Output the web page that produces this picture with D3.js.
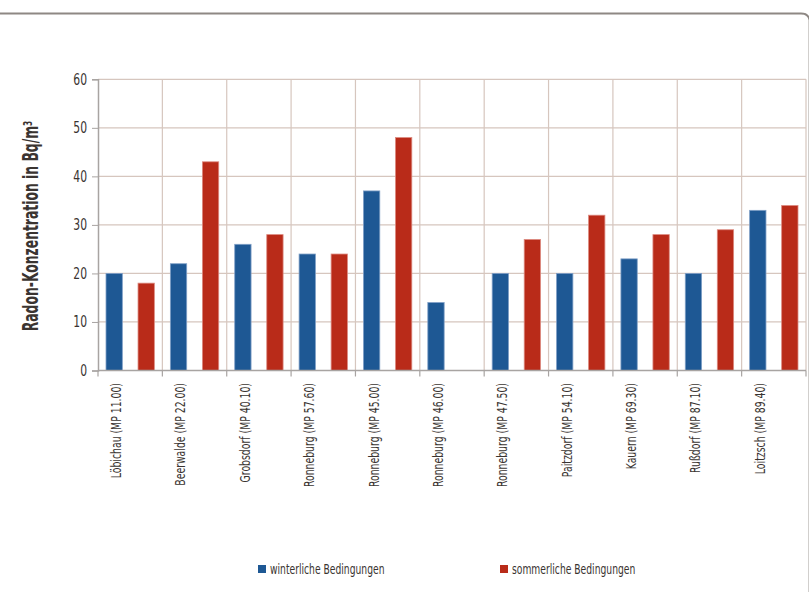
<!DOCTYPE html>
<html>
<head>
<meta charset="utf-8">
<script src="https://cdn.jsdelivr.net/npm/d3@7"></script>
<style>
  html, body { margin: 0; padding: 0; background: #fff; }
  svg text { font-family: "Liberation Sans Narrow", "DejaVu Sans Condensed", "Roboto Condensed", sans-serif; font-stretch: condensed; }
</style>
</head>
<body>
<svg id="chart" width="809" height="592"></svg>
<script>
// Radon concentration per measuring point, winter vs. summer conditions
const categories = [
  "Löbichau (MP 11.00)", "Beerwalde (MP 22.00)", "Grobsdorf (MP 40.10)",
  "Ronneburg (MP 57.60)", "Ronneburg (MP 45.00)", "Ronneburg (MP 46.00)",
  "Ronneburg (MP 47.50)", "Paitzdorf (MP 54.10)", "Kauern (MP 69.30)",
  "Rußdorf (MP 87.10)", "Loitzsch (MP 89.40)"
];
const winterValues = [20, 22, 26, 24, 37, 14, 20, 20, 23, 20, 33];
const summerValues = [18, 43, 28, 24, 48, null, 27, 32, 28, 29, 34];
const seriesNames = ["winterliche Bedingungen", "sommerliche Bedingungen"];
const seriesColors = ["#1e5894", "#b92b19"];
const seriesEdges = ["#7f9fc6", "#dc8a80"];
const yTicks = [0, 10, 20, 30, 40, 50, 60];
const yTitle = "Radon-Konzentration in Bq/m";

const svg = d3.select("#chart");
const plotLeft = 98, plotRight = 806, plotTop = 79.3, plotBottom = 370.5;
const narrow = 0.74; // horizontal squeeze for the condensed lettering

// outer frame (top edge with rounded corner on the right)
svg.append("path")
  .attr("d", "M0,13.5 H801 Q808.5,13.5 809.5,20 V600")
  .attr("fill", "none").attr("stroke", "#8e8884").attr("stroke-width", 1.8);

const x = d3.scaleBand().domain(categories).range([plotLeft, plotRight]).padding(0);
const xInner = d3.scaleBand().domain([0, 1]).range([0, x.bandwidth()])
  .paddingInner(0.49).paddingOuter(0.25);
const y = d3.scaleLinear().domain([0, 60]).range([plotBottom, plotTop]);

// horizontal gridlines
svg.append("g").selectAll("line").data(yTicks.filter(d => d > 0)).join("line")
  .attr("x1", plotLeft).attr("x2", plotRight)
  .attr("y1", d => y(d)).attr("y2", d => y(d))
  .attr("stroke", "#d6c6be").attr("stroke-width", 1.2);

// vertical gridlines at category boundaries
const bounds = categories.map(c => x(c)).concat([plotRight]).slice(1);
svg.append("g").selectAll("line").data(bounds).join("line")
  .attr("x1", d => d).attr("x2", d => d)
  .attr("y1", plotTop).attr("y2", plotBottom)
  .attr("stroke", "#d6c6be").attr("stroke-width", 1.2);

// bars
const series = [winterValues, summerValues];
series.forEach((vals, si) => {
  svg.append("g").selectAll("rect")
    .data(categories.map((c, i) => ({ c, v: vals[i] })).filter(d => d.v != null))
    .join("rect")
    .attr("x", d => x(d.c) + xInner(si))
    .attr("width", xInner.bandwidth())
    .attr("y", d => y(d.v))
    .attr("height", d => y(0) - y(d.v))
    .attr("fill", seriesColors[si])
    .attr("stroke", seriesEdges[si]).attr("stroke-width", 0.8);
});

// y axis
const yAxis = svg.append("g").attr("transform", `translate(${plotLeft},0)`)
  .call(d3.axisLeft(y).tickValues(yTicks).tickSize(6).tickPadding(6));
yAxis.select(".domain").attr("stroke", "#a8a4a2").attr("stroke-width", 1.5);
yAxis.selectAll(".tick line").attr("stroke", "#a8a4a2");
yAxis.selectAll(".tick text")
  .attr("fill", "#3a3431").attr("font-size", 15)
  .attr("x", -11 / 0.8).attr("transform", "scale(0.8,1)");

// x axis with ticks at category boundaries
svg.append("line").attr("x1", plotLeft).attr("x2", plotRight)
  .attr("y1", plotBottom).attr("y2", plotBottom)
  .attr("stroke", "#a8a4a2").attr("stroke-width", 1.5);
svg.append("g").selectAll("line").data(categories.map(c => x(c)).concat([plotRight])).join("line")
  .attr("x1", d => d).attr("x2", d => d)
  .attr("y1", plotBottom).attr("y2", plotBottom + 6)
  .attr("stroke", "#a8a4a2").attr("stroke-width", 1.2);

// rotated category labels
svg.append("g").selectAll("text").data(categories).join("text")
  .attr("transform", d => `translate(${x(d) + x.bandwidth() / 2 - 14},383) rotate(-90) scale(${narrow},1)`)
  .attr("text-anchor", "end").attr("dy", "0.35em")
  .attr("font-size", 14).attr("fill", "#3a3431")
  .text(d => d);

// y axis title
const title = svg.append("text")
  .attr("transform", "translate(30,226) rotate(-90) scale(0.64,1)")
  .attr("text-anchor", "middle").attr("dy", "0.35em")
  .attr("font-size", 21.5).attr("font-weight", "bold").attr("fill", "#3a3431");
title.append("tspan").text(yTitle);
title.append("tspan").attr("dy", "-0.45em").attr("font-size", 13).text("3");

// legend
const legendX = [258, 500];
seriesNames.forEach((name, i) => {
  const g = svg.append("g").attr("transform", `translate(${legendX[i]},569)`);
  g.append("rect").attr("x", 0).attr("y", -4).attr("width", 8).attr("height", 8)
    .attr("fill", seriesColors[i]);
  g.append("text").attr("transform", "translate(12,0) scale(0.73,1)").attr("dy", "0.35em")
    .attr("font-size", 14).attr("fill", "#3a3431").text(name);
});
</script>
</body>
</html>
